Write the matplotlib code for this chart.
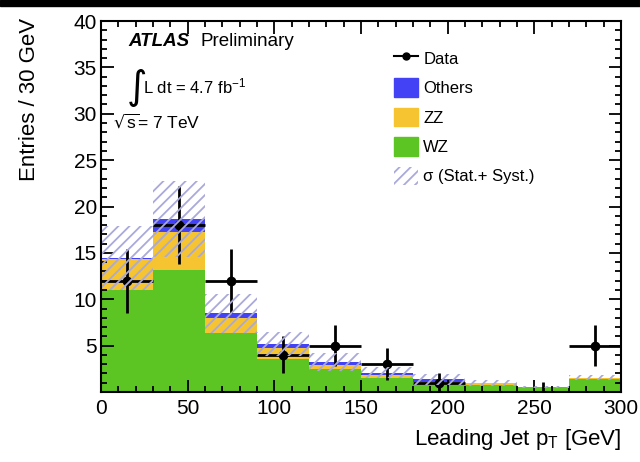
import numpy as np
import matplotlib
matplotlib.use("Agg")
import matplotlib.pyplot as plt
from matplotlib.patches import Patch, Rectangle
from matplotlib.lines import Line2D

plt.rcParams['font.family'] = ['Liberation Sans', 'DejaVu Sans']
plt.rcParams['mathtext.default'] = 'regular'
plt.rcParams['hatch.linewidth'] = 1.3

# binning (GeV)
bin_edges = [0, 30, 60, 90, 120, 150, 180, 210, 240, 270, 300]

# stacked expectation
wz = [11.0, 13.2, 6.4, 3.6, 2.5, 1.5, 0.9, 0.8, 0.5, 1.45]
zz = [3.3, 4.1, 1.6, 1.1, 0.4, 0.3, 0.2, 0.15, 0.03, 0.05]
others = [0.1, 1.4, 0.5, 0.5, 0.35, 0.3, 0.25, 0.05, 0.02, 0.05]
sigma = [3.45, 4.1, 2.1, 1.3, 1.0, 0.6, 0.55, 0.3, 0.15, 0.3]

# observed data and its error bars
data = [12, 18, 12, 4, 5, 3, 1, 0, 0, 5]
err_lo = [3.46, 4.24, 3.46, 2.0, 2.24, 1.73, 1.0, 0, 0, 2.24]
err_hi = [3.46, 4.24, 3.46, 2.0, 2.24, 1.73, 1.0, 0, 1.1, 2.24]

yticks = [0, 5, 10, 15, 20, 25, 30, 35, 40]
ytick_labels = ['', '5', '10', '15', '20', '25', '30', '35', '40']
xticks = [0, 50, 100, 150, 200, 250, 300]

c_wz = '#5cc423'
c_zz = '#f5c430'
c_oth = '#4343f5'
c_hatch = '#a9a9dc'

W, H = 640, 462
fig = plt.figure(figsize=(W / 100, H / 100), dpi=100)
ax = fig.add_axes([101 / W, 1 - 392 / H, 520 / W, 371 / H])

edges = np.array(bin_edges, dtype=float)
centers = 0.5 * (edges[1:] + edges[:-1])
width = edges[1:] - edges[:-1]
wz = np.array(wz)
zz = np.array(zz)
others = np.array(others)
sigma = np.array(sigma)
total = wz + zz + others

ax.bar(centers, wz, width=width, color=c_wz, linewidth=0, zorder=1)
ax.bar(centers, zz, width=width, bottom=wz, color=c_zz, linewidth=0, zorder=1)
ax.bar(centers, others, width=width, bottom=wz + zz, color=c_oth, linewidth=0, zorder=1)

# data points
data = np.array(data, dtype=float)
nz = data > 0
ax.errorbar(centers[nz], data[nz], xerr=width[nz] / 2,
            yerr=[np.array(err_lo)[nz], np.array(err_hi)[nz]],
            fmt='o', color='black', ms=6, elinewidth=2.0, capsize=0, zorder=2)
for xc, lo, hi, d in zip(centers, err_lo, err_hi, data):
    if d == 0 and hi > 0:
        ax.vlines(xc, d - lo, d + hi, color='black', lw=2.0, zorder=2)

# uncertainty band
ax.bar(centers, 2 * sigma, width=width, bottom=total - sigma, facecolor='none',
       edgecolor=c_hatch, linewidth=0, hatch='///', zorder=3)

ax.set_xlim(0, 300)
ax.set_ylim(0, 40)
ax.set_xticks(xticks)
ax.set_xticks(np.arange(0, 301, 10), minor=True)
ax.set_yticks(yticks)
ax.set_yticklabels(ytick_labels)
ax.set_yticks(np.arange(0, 41, 1), minor=True)
ax.tick_params(which='both', direction='in', top=True, right=True, width=1.3,
               labelsize=15)
ax.tick_params(which='major', length=9)
ax.tick_params(which='minor', length=4.5)
ax.tick_params(axis='x', pad=5)
ax.tick_params(axis='y', pad=3)
for s in ax.spines.values():
    s.set_linewidth(1.5)
    s.set_zorder(5)

def px(x, y):
    return x / W, 1 - y / H

fig.text(*px(30, 18), 'Entries / 30 GeV', rotation=90, ha='center', va='top', fontsize=16)
fig.text(*px(621, 440), 'Leading Jet p$_T$ [GeV]', ha='right', va='center', fontsize=16)

fig.text(*px(128, 41), 'ATLAS', fontsize=13.5, fontweight='bold', fontstyle='italic',
         ha='left', va='center')
fig.text(*px(201, 41), 'Preliminary', fontsize=13.5, ha='left', va='center')
fig.text(*px(126, 88), r'$\int$', fontsize=20, ha='left', va='center')
fig.text(*px(143, 93), 'L dt = 4.7 fb$^{-1}$', fontsize=12, ha='left', va='baseline')
fig.text(*px(113, 121), r'$\sqrt{s}$= 7 TeV', fontsize=12.5, ha='left', va='center')

handles = [
    Line2D([], [], color='black', marker='o', ms=5, lw=1.5),
    Patch(facecolor=c_oth, edgecolor=c_oth),
    Patch(facecolor=c_zz, edgecolor=c_zz),
    Patch(facecolor=c_wz, edgecolor=c_wz),
    Patch(facecolor='none', edgecolor=c_hatch, hatch='///', linewidth=0),
]
labels = ['Data', 'Others', 'ZZ', 'WZ', 'σ (Stat.+ Syst.)']
fig.legend(handles, labels, loc='upper left', bbox_to_anchor=px(394, 49),
           frameon=False, fontsize=12, handlelength=1.45, handleheight=1.35,
           handletextpad=0.3, labelspacing=0.64, borderpad=0, borderaxespad=0)

fig.patches.append(Rectangle((0, 1 - 6 / H), 1, 6 / H, transform=fig.transFigure,
                             color='black', zorder=10))

fig.savefig('out.png', dpi=100)
